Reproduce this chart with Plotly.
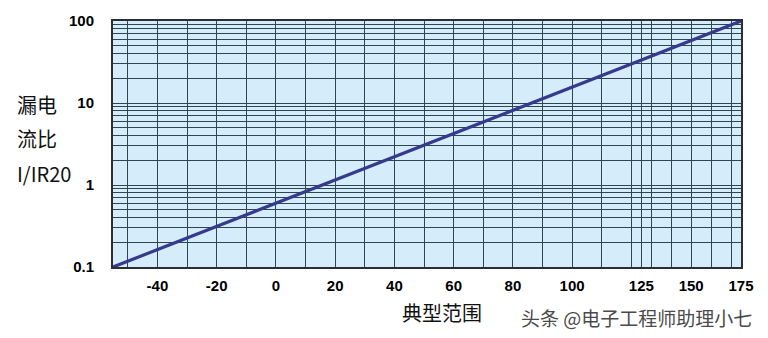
import plotly.graph_objects as go

# Data
temps = [-55, 120, 175]          # °C
ratio = [0.1, 30, 100]           # I / IR20

tick_temps = [-40, -20, 0, 20, 40, 60, 80, 100, 125, 150, 175]
tick_labels = [str(t) for t in tick_temps]
grid_temps = list(range(-50, 121, 10)) + [125, 130, 140, 150, 160, 170]
y_ticks = [0.1, 1, 10, 100]
y_labels = ["0.1", "1", "10", "100"]

# Axis scale: linear to 120 °C, compressed above (as drawn on the original paper)
def pos(t):
    return t if t <= 120 else 120 + (t - 120) * 0.673

fig = go.Figure()
fig.add_trace(go.Scatter(
    x=[pos(t) for t in temps], y=ratio, mode="lines",
    line=dict(color="#353a8c", width=3.2), showlegend=False, hoverinfo="skip"))

grid_col = "#2e464f"
fig.update_layout(
    width=768, height=338,
    margin=dict(l=113, r=27, t=18, b=71),
    paper_bgcolor="white", plot_bgcolor="#d5ecfa",
    font=dict(family="Liberation Sans, Arial, sans-serif", color="black"),
    xaxis=dict(
        range=[pos(-55), pos(175)], tickmode="array",
        tickvals=[pos(t) for t in tick_temps], ticktext=tick_labels,
        tickfont=dict(size=15, family="Liberation Sans, Arial", weight="bold"),
        ticklabelstandoff=4,
        showgrid=False, zeroline=False, ticks="",
        showline=True, linecolor="#2a2f33", linewidth=2, mirror=True,
        minor=dict(tickmode="array", tickvals=[pos(t) for t in grid_temps],
                   showgrid=True, gridcolor=grid_col, gridwidth=1.4, ticks=""),
    ),
    yaxis=dict(
        type="log", range=[-1, 2], tickmode="array",
        tickvals=y_ticks, ticktext=y_labels,
        tickfont=dict(size=15, family="Liberation Sans, Arial", weight="bold"),
        ticklabelstandoff=14,
        showgrid=True, gridcolor=grid_col, gridwidth=1.4, zeroline=False, ticks="",
        showline=True, linecolor="#2a2f33", linewidth=2, mirror=True,
        minor=dict(dtick="D1", showgrid=True, gridcolor=grid_col, gridwidth=1.2, ticks=""),
    ),
)

cjk = "Noto Sans CJK SC"
for txt, yy in [("漏电", 103), ("流比", 137), ("I/IR20", 172)]:
    fig.add_annotation(text=txt, xref="paper", yref="paper",
                       x=(15 - 113) / 628, y=1 - (yy - 18) / 249, xanchor="left", yanchor="middle",
                       showarrow=False, font=dict(family=cjk, size=20, color="#111"))
fig.add_annotation(text="典型范围", xref="paper", yref="paper",
                   x=(442 - 113) / 628, y=-(313 - 267) / 249, xanchor="center", yanchor="middle",
                   showarrow=False, font=dict(family=cjk, size=20, color="#111"))
fig.add_annotation(text="头条 @电子工程师助理小七", xref="paper", yref="paper",
                   x=(636 - 113) / 628, y=-(318 - 267) / 249, xanchor="center", yanchor="middle",
                   showarrow=False, font=dict(family=cjk, size=19, color="#4a4a4a"))

fig.write_html("out.html")
